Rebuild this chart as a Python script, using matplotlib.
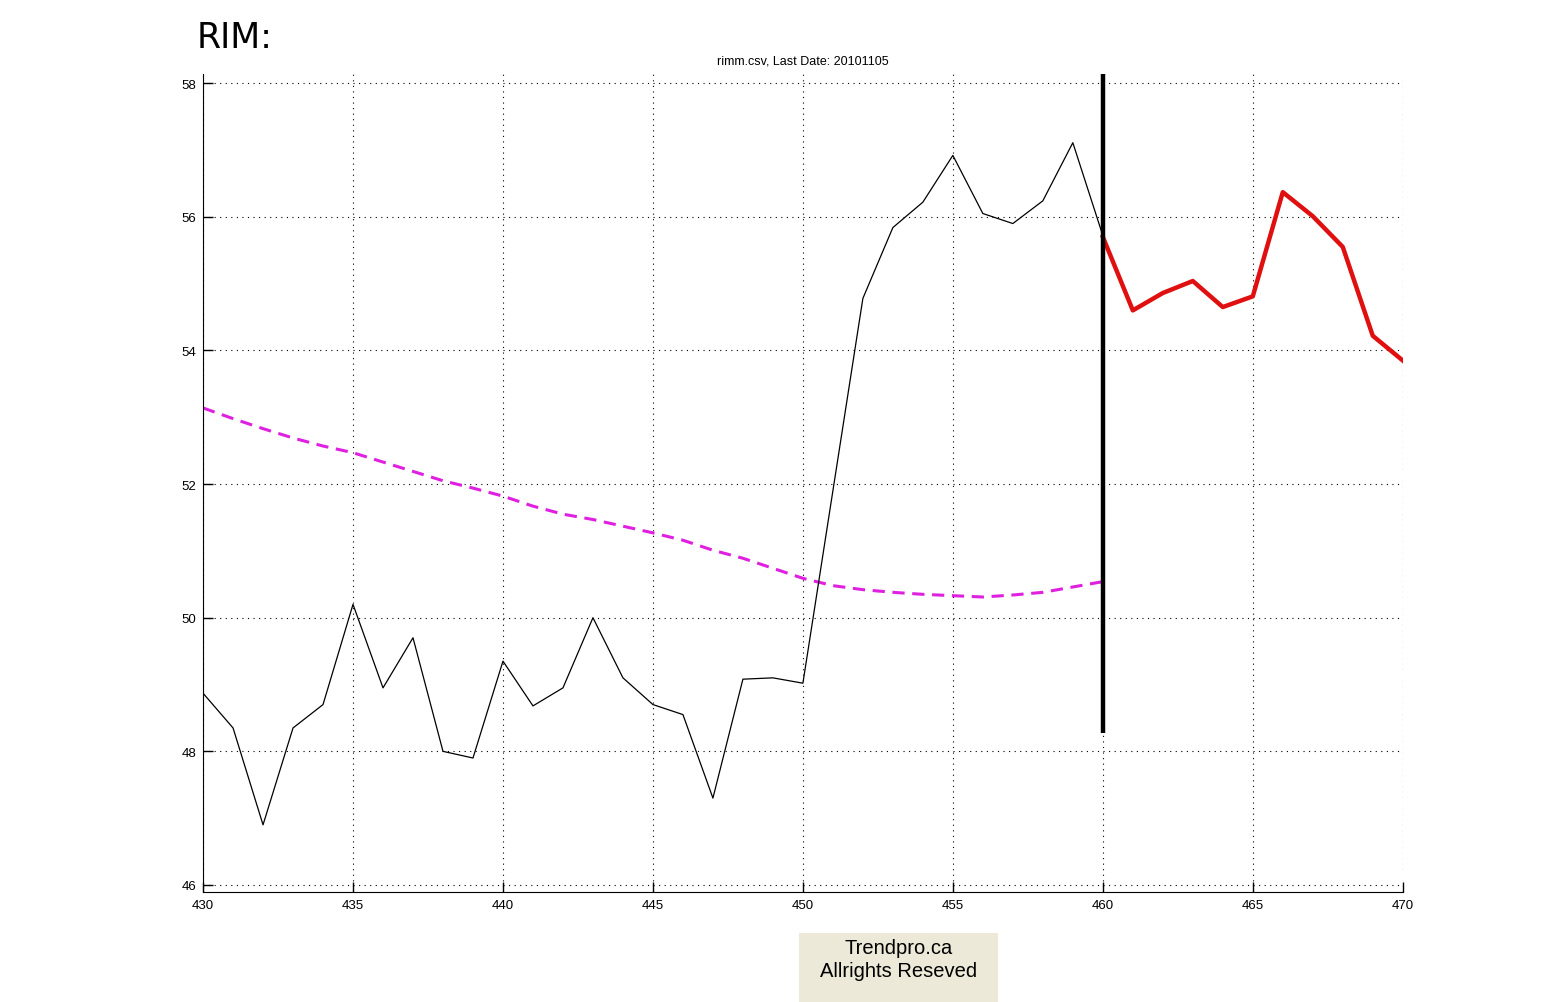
import matplotlib
matplotlib.use("Agg")
import matplotlib.pyplot as plt
from matplotlib.patches import Rectangle
from matplotlib import font_manager

# price history (black) and its moving average (magenta)
hist_x = list(range(430, 461))
hist_price = [48.87, 48.35, 46.90, 48.35, 48.70, 50.20, 48.95, 49.70, 48.00, 47.90,
              49.35, 48.68, 48.95, 50.00, 49.10, 48.70, 48.55, 47.30, 49.08, 49.10,
              49.02, 51.90, 54.78, 55.84, 56.22, 56.92, 56.05, 55.90, 56.24, 57.11,
              55.72]
avg_price = [53.14, 52.98, 52.83, 52.69, 52.57, 52.47, 52.33, 52.19, 52.05, 51.94,
             51.82, 51.67, 51.55, 51.47, 51.37, 51.27, 51.16, 51.01, 50.89, 50.74,
             50.59, 50.48, 50.42, 50.38, 50.35, 50.33, 50.31, 50.34, 50.38, 50.46,
             50.54]

# forecast (red)
fc_x = list(range(460, 471))
fc_price = [55.70, 54.60, 54.86, 55.04, 54.65, 54.81, 56.37, 56.01, 55.55, 54.22, 53.85]

cut_x = 460
cut_lo = 48.28

xticks = [430, 435, 440, 445, 450, 455, 460, 465, 470]
yticks = [46, 48, 50, 52, 54, 56, 58]
ylo, yhi = 45.895, 58.135

names = {f.name for f in font_manager.fontManager.ttflist}
tick_font = "Liberation Sans Narrow" if "Liberation Sans Narrow" in names else "Liberation Sans"

fig = plt.figure(figsize=(15.5, 10.03), dpi=100)
ax = fig.add_axes([0.131, 0.1097, 0.774, 0.8153])

ax.plot(hist_x, avg_price, color="#e020e0", lw=2.2, ls=(0, (4, 2.5)))
ax.plot(hist_x, hist_price, color="black", lw=0.9)
ax.plot(fc_x, fc_price, color="#e01010", lw=3.2)
ax.plot([cut_x, cut_x], [cut_lo, yhi], color="black", lw=3.2, solid_capstyle="butt")

ax.set_xlim(430, 470)
ax.set_ylim(ylo, yhi)
ax.set_xticks(xticks)
ax.set_yticks(yticks)
ax.grid(True, color="black", ls=(0, (1, 4)), lw=0.8)
ax.tick_params(direction="in", length=7, width=1, labelsize=9.5, pad=5)
for lab in ax.get_xticklabels() + ax.get_yticklabels():
    lab.set_family(tick_font)
ax.spines["top"].set_visible(False)
ax.spines["right"].set_visible(False)
ax.set_title("rimm.csv, Last Date: 20101105", fontsize=9, family=tick_font, pad=8)

fig.text(0.127, 0.962, "RIM:", fontsize=25, family="DejaVu Sans", va="center", ha="left")

fig.patches.append(Rectangle((799 / 1550, 0), 199 / 1550, 69 / 1003,
                             transform=fig.transFigure, facecolor="#ece9d8",
                             edgecolor="none"))
fig.text(899 / 1550, 1 - 960 / 1003, "Trendpro.ca\nAllrights Reseved", fontsize=14.5,
         family="Liberation Sans", ha="center", va="center", linespacing=1.25)

fig.savefig("out.png", dpi=100)
